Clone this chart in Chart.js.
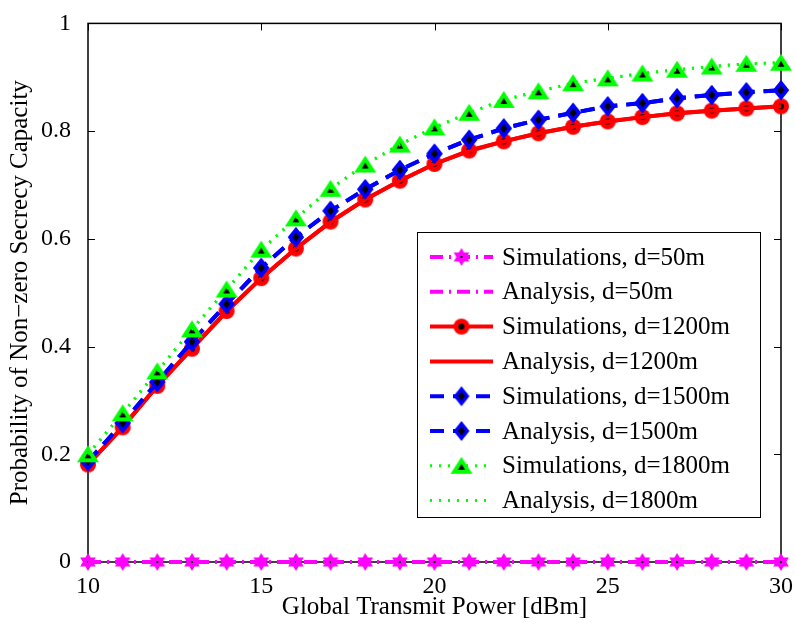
<!DOCTYPE html>
<html>
<head>
<meta charset="utf-8">
<script src="https://cdn.jsdelivr.net/npm/chart.js@4.4.1/dist/chart.umd.min.js"></script>
<style>
  html, body { margin: 0; padding: 0; background: #fff; }
  #wrap { width: 795px; height: 625px; }
</style>
</head>
<body>
<div id="wrap"><canvas id="grafico" width="795" height="625"></canvas></div>
<script>
// potencia (dBm)
var potencia = [10, 11, 12, 13, 14, 15, 16, 17, 18, 19, 20, 21, 22, 23, 24, 25, 26, 27, 28, 29, 30];

var sim50 = [0, 0, 0, 0, 0, 0, 0, 0, 0, 0, 0, 0, 0, 0, 0, 0, 0, 0, 0, 0, 0];
var ana50 = [0, 0, 0, 0, 0, 0, 0, 0, 0, 0, 0, 0, 0, 0, 0, 0, 0, 0, 0, 0, 0];
var sim1200 = [0.181, 0.250, 0.327, 0.396, 0.466, 0.527, 0.582, 0.632, 0.673, 0.708, 0.739, 0.764, 0.781, 0.796, 0.808, 0.818, 0.826, 0.833, 0.838, 0.842, 0.846];
var ana1200 = [0.181, 0.251, 0.327, 0.396, 0.465, 0.527, 0.582, 0.631, 0.673, 0.708, 0.739, 0.763, 0.781, 0.796, 0.808, 0.818, 0.826, 0.833, 0.838, 0.842, 0.846];
var sim1500 = [0.187, 0.258, 0.334, 0.409, 0.479, 0.546, 0.603, 0.652, 0.692, 0.728, 0.758, 0.784, 0.805, 0.821, 0.834, 0.846, 0.852, 0.861, 0.867, 0.872, 0.876];
var ana1500 = [0.187, 0.258, 0.334, 0.409, 0.479, 0.546, 0.603, 0.652, 0.692, 0.728, 0.758, 0.784, 0.805, 0.821, 0.834, 0.846, 0.852, 0.861, 0.867, 0.872, 0.876];
var sim1800 = [0.200, 0.276, 0.354, 0.432, 0.506, 0.580, 0.638, 0.693, 0.738, 0.775, 0.807, 0.834, 0.858, 0.874, 0.889, 0.898, 0.907, 0.914, 0.920, 0.925, 0.927];
var ana1800 = [0.200, 0.276, 0.354, 0.432, 0.506, 0.579, 0.638, 0.693, 0.738, 0.775, 0.807, 0.834, 0.858, 0.874, 0.889, 0.898, 0.907, 0.914, 0.920, 0.925, 0.927];

var ticksX = [10, 15, 20, 25, 30];
var ticksY = [0, 0.2, 0.4, 0.6, 0.8, 1];

var fonte = '"Liberation Serif", "Times New Roman", serif';

// marcadores desenhados em canvas pequenos
function novoCanvas(w, h) {
    var c = document.createElement('canvas');
    c.width = w; c.height = h;
    return c;
}

function estrela() {
    var c = novoCanvas(20, 20), ctx = c.getContext('2d');
    var cx = 10, cy = 10, R = 9, r = 5.2;
    ctx.fillStyle = '#ff00ff';
    ctx.beginPath();
    for (var i = 0; i < 12; i++) {
        var a = -Math.PI / 2 + i * Math.PI / 6;
        var rr = (i % 2 == 0) ? R : r;
        ctx.lineTo(cx + rr * Math.cos(a), cy + rr * Math.sin(a));
    }
    ctx.closePath();
    ctx.fill();
    ctx.fillStyle = '#000';
    ctx.fillRect(cx - 1, cy - 1, 2, 2);
    return c;
}

function circulo() {
    var c = novoCanvas(18, 18), ctx = c.getContext('2d');
    ctx.fillStyle = '#ff0000';
    ctx.beginPath(); ctx.arc(9, 9, 8, 0, Math.PI * 2); ctx.fill();
    ctx.fillStyle = '#000';
    ctx.beginPath(); ctx.arc(9, 9, 3, 0, Math.PI * 2); ctx.fill();
    return c;
}

function losango() {
    var c = novoCanvas(18, 22), ctx = c.getContext('2d');
    ctx.fillStyle = '#0000ff';
    ctx.beginPath();
    ctx.moveTo(9, 1); ctx.lineTo(17, 11); ctx.lineTo(9, 21); ctx.lineTo(1, 11);
    ctx.closePath(); ctx.fill();
    ctx.fillStyle = '#000';
    ctx.beginPath();
    ctx.moveTo(9, 6.5); ctx.lineTo(12.5, 11); ctx.lineTo(9, 15.5); ctx.lineTo(5.5, 11);
    ctx.closePath(); ctx.fill();
    return c;
}

function triangulo() {
    var c = novoCanvas(24, 20), ctx = c.getContext('2d');
    ctx.fillStyle = '#00ff00';
    ctx.beginPath();
    ctx.moveTo(12, 1); ctx.lineTo(23, 18); ctx.lineTo(1, 18);
    ctx.closePath(); ctx.fill();
    ctx.fillStyle = '#000';
    ctx.beginPath();
    ctx.moveTo(12, 8); ctx.lineTo(15.5, 14); ctx.lineTo(8.5, 14);
    ctx.closePath(); ctx.fill();
    return c;
}

var mkEstrela = estrela();
var mkCirculo = circulo();
var mkLosango = losango();
var mkTriangulo = triangulo();

var tracoPontoTraco = [13, 6, 2, 6];
var tracejado = [14, 9];
var pontilhado = [2, 7];

function serie(label, dados, cor, largura, traco, marcador, ordem) {
    return {
        label: label,
        data: potencia.map(function (x, i) { return { x: x, y: dados[i] }; }),
        borderColor: cor,
        backgroundColor: cor,
        borderWidth: largura,
        borderDash: traco,
        pointStyle: marcador || false,
        pointRadius: marcador ? 9 : 0,
        pointHoverRadius: marcador ? 9 : 0,
        tension: 0,
        clip: false,
        order: ordem,
        _marcador: marcador
    };
}

var datasets = [
    serie('Simulations, d=50m', sim50, '#ff00ff', 4, tracoPontoTraco, mkEstrela, 7),
    serie('Analysis, d=50m', ana50, '#ff00ff', 4, tracoPontoTraco, null, 6),
    serie('Simulations, d=1200m', sim1200, '#ff0000', 4, [], mkCirculo, 5),
    serie('Analysis, d=1200m', ana1200, '#ff0000', 4, [], null, 4),
    serie('Simulations, d=1500m', sim1500, '#0000ff', 4, tracejado, mkLosango, 3),
    serie('Analysis, d=1500m', ana1500, '#0000ff', 4, tracejado, mkLosango, 2),
    serie('Simulations, d=1800m', sim1800, '#00ff00', 3, pontilhado, mkTriangulo, 1),
    serie('Analysis, d=1800m', ana1800, '#00ff00', 3, pontilhado, null, 0)
];

// caixa e marcas internas (estilo MATLAB)
var caixaPlugin = {
    id: 'caixa',
    beforeDatasetsDraw: function (chart) {
        var ctx = chart.ctx, a = chart.chartArea;
        var sx = chart.scales.x, sy = chart.scales.y;
        ctx.save();
        ctx.strokeStyle = '#000';
        ctx.lineWidth = 1.5;
        ctx.strokeRect(a.left, a.top, a.right - a.left, a.bottom - a.top);
        ctx.lineWidth = 1;
        ctx.beginPath();
        ticksX.forEach(function (t) {
            var px = Math.round(sx.getPixelForValue(t)) + 0.5;
            ctx.moveTo(px, a.bottom); ctx.lineTo(px, a.bottom - 7);
            ctx.moveTo(px, a.top); ctx.lineTo(px, a.top + 7);
        });
        ticksY.forEach(function (t) {
            var py = Math.round(sy.getPixelForValue(t)) + 0.5;
            ctx.moveTo(a.left, py); ctx.lineTo(a.left + 7, py);
            ctx.moveTo(a.right, py); ctx.lineTo(a.right - 7, py);
        });
        ctx.stroke();
        ctx.restore();
    }
};

// legenda dentro da area do grafico
var legendaPlugin = {
    id: 'legenda',
    afterDraw: function (chart) {
        var ctx = chart.ctx;
        var x0 = 417, y0 = 232, w = 343, h = 285, passo = 34.8;
        ctx.save();
        ctx.fillStyle = '#fff';
        ctx.fillRect(x0, y0, w, h);
        ctx.strokeStyle = '#000';
        ctx.lineWidth = 1;
        ctx.strokeRect(x0 + 0.5, y0 + 0.5, w, h);
        ctx.font = '25px ' + fonte;
        ctx.textBaseline = 'middle';
        chart.data.datasets.forEach(function (ds, i) {
            var y = y0 + 25 + i * passo;
            ctx.save();
            ctx.strokeStyle = ds.borderColor;
            ctx.lineWidth = ds.borderWidth;
            ctx.setLineDash(ds.borderDash);
            ctx.beginPath();
            ctx.moveTo(430, y); ctx.lineTo(493, y);
            ctx.stroke();
            ctx.restore();
            if (ds._marcador) {
                var m = ds._marcador;
                ctx.drawImage(m, 461.5 - m.width / 2, y - m.height / 2);
            }
            ctx.fillStyle = '#000';
            ctx.fillText(ds.label, 502, y + 1);
        });
        ctx.restore();
    }
};

new Chart(document.getElementById('grafico'), {
    type: 'line',
    data: { datasets: datasets },
    options: {
        responsive: false,
        animation: false,
        layout: { padding: { top: 15, right: 13, left: 0, bottom: 0 } },
        plugins: {
            legend: { display: false },
            tooltip: { enabled: false }
        },
        scales: {
            x: {
                type: 'linear',
                min: 10,
                max: 30,
                afterFit: function (s) { s.height = 63; },
                grid: { display: false },
                border: { display: false },
                afterBuildTicks: function (s) { s.ticks = ticksX.map(function (v) { return { value: v }; }); },
                ticks: {
                    color: '#000', font: { family: fonte, size: 24 }, padding: 2, maxRotation: 0,
                    callback: function (v) { return String(v); }
                },
                title: {
                    display: true,
                    text: 'Global Transmit Power [dBm]',
                    color: '#000',
                    font: { family: fonte, size: 25 },
                    padding: { top: 0, bottom: 3 }
                }
            },
            y: {
                type: 'linear',
                min: 0,
                max: 1,
                afterFit: function (s) { s.width = 88; },
                grid: { display: false },
                border: { display: false },
                afterBuildTicks: function (s) { s.ticks = ticksY.map(function (v) { return { value: v }; }); },
                ticks: {
                    color: '#000', font: { family: fonte, size: 24 }, padding: 9,
                    callback: function (v) { return String(v); }
                },
                title: {
                    display: true,
                    text: 'Probability of Non\u2212zero Secrecy Capacity',
                    color: '#000',
                    font: { family: fonte, size: 25 },
                    padding: { top: 5, bottom: 0 }
                }
            }
        }
    },
    plugins: [caixaPlugin, legendaPlugin]
});
</script>
</body>
</html>
